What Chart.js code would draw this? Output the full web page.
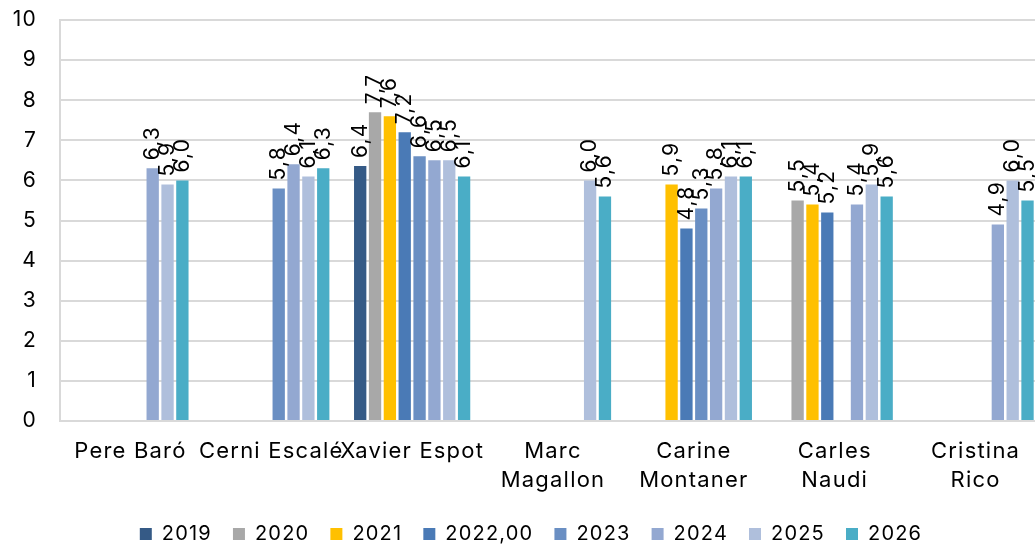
<!DOCTYPE html>
<html>
<head>
<meta charset="utf-8">
<script src="https://cdn.jsdelivr.net/npm/chart.js@4"></script>
<style>
  html, body { margin:0; padding:0; background:#fff; width:1035px; height:549px; overflow:hidden; }
  #wrap { width:1050px; height:549px; }
</style>
</head>
<body>
<div id="wrap"><canvas id="chart" width="1050" height="549"></canvas></div>
<script>
// === Datos ===
const candidates = ['Pere Baró', 'Cerni Escalé', 'Xavier Espot', ['Marc', 'Magallon'], ['Carine', 'Montaner'], ['Carles', 'Naudi'], ['Cristina', 'Rico']];
const seriesNames = ['2019', '2020', '2021', '2022,00', '2023', '2024', '2025', '2026'];
const seriesColors = ['#355a86', '#a8a8a8', '#ffc000', '#4a7ab6', '#6a8fc3', '#93a8d1', '#afbfdc', '#4aadc6'];

const v2019 = [null, null, 6.36, null, null, null, null];
const v2020 = [null, null, 7.7, null, null, 5.5, null];
const v2021 = [null, null, 7.6, null, 5.9, 5.4, null];
const v2022 = [null, null, 7.2, null, 4.8, 5.2, null];
const v2023 = [null, 5.8, 6.6, null, 5.3, null, null];
const v2024 = [6.3, 6.4, 6.5, null, 5.8, 5.4, 4.9];
const v2025 = [5.9, 6.1, 6.5, 6.0, 6.1, 5.9, 6.0];
const v2026 = [6.0, 6.3, 6.1, 5.6, 6.1, 5.6, 5.5];
const allValues = [v2019, v2020, v2021, v2022, v2023, v2024, v2025, v2026];

const yTicks = [0,1,2,3,4,5,6,7,8,9,10];

const FONT = "Inter, 'Liberation Sans', Arial, sans-serif";
const SPACING = '1.2px';

// espaciado de letras para todo el texto del canvas
const letterSpace = {
  id: 'letterSpace',
  beforeUpdate(chart){ chart.ctx.letterSpacing = SPACING; },
  beforeDraw(chart){ chart.ctx.letterSpacing = SPACING; }
};

// etiquetas verticales encima de cada barra
const valueLabels = {
  id: 'valueLabels',
  afterDatasetsDraw(chart){
    const ctx = chart.ctx;
    ctx.save();
    ctx.font = '21px ' + FONT;
    ctx.fillStyle = '#000';
    ctx.textAlign = 'left';
    ctx.textBaseline = 'middle';
    chart.data.datasets.forEach((ds, i)=>{
      const meta = chart.getDatasetMeta(i);
      meta.data.forEach((bar, j)=>{
        const v = ds.data[j];
        if(v === null || v === undefined) return;
        const txt = (Math.round(v*10)/10).toFixed(1).replace('.', ',');
        ctx.save();
        ctx.translate(bar.x, bar.y - 8);
        ctx.rotate(-Math.PI/2);
        ctx.fillText(txt, 0, 0);
        ctx.restore();
      });
    });
    ctx.restore();
  }
};

// bajar un poco la leyenda
const legendShift = {
  id: 'legendShift',
  afterLayout(chart){
    const lg = chart.legend;
    if(!lg) return;
    lg.top += 5; lg.bottom += 5;
    lg.left += 8; lg.right += 8;
  }
};

new Chart(document.getElementById('chart'), {
  type: 'bar',
  data: {
    labels: candidates,
    datasets: seriesNames.map((name, i)=>({
      label: name,
      data: allValues[i],
      backgroundColor: seriesColors[i],
      borderWidth: 0,
      categoryPercentage: 0.843,
      barPercentage: 0.83
    }))
  },
  options: {
    responsive: false,
    animation: false,
    devicePixelRatio: 1,
    layout: { padding: { top: 20, right: 4, left: 0, bottom: 0 } },
    plugins: {
      tooltip: { enabled: false },
      legend: {
        position: 'bottom',
        labels: {
          font: { family: FONT, size: 20 },
          color: '#000',
          boxWidth: 12,
          boxHeight: 12,
          padding: 21
        }
      }
    },
    scales: {
      x: {
        grid: { display: false },
        border: { display: true, color: '#d9d9d9', width: 2 },
        ticks: { color: '#000', font: { family: FONT, size: 22, lineHeight: 1.32 }, padding: 8, maxRotation: 0, autoSkip: false },
        afterFit(s){ s.height = 77; }
      },
      y: {
        min: 0, max: 10,
        afterBuildTicks(s){ s.ticks = yTicks.map(v=>({value:v})); },
        grid: { color: '#d9d9d9', lineWidth: 2, drawTicks: true, tickLength: 20, tickColor: 'rgba(0,0,0,0)' },
        border: { display: true, color: '#d9d9d9', width: 2 },
        ticks: { color: '#000', font: { family: FONT, size: 21 }, padding: 3 },
        afterFit(s){ s.width = 60; }
      }
    }
  },
  plugins: [letterSpace, valueLabels, legendShift]
});
</script>
</body>
</html>
